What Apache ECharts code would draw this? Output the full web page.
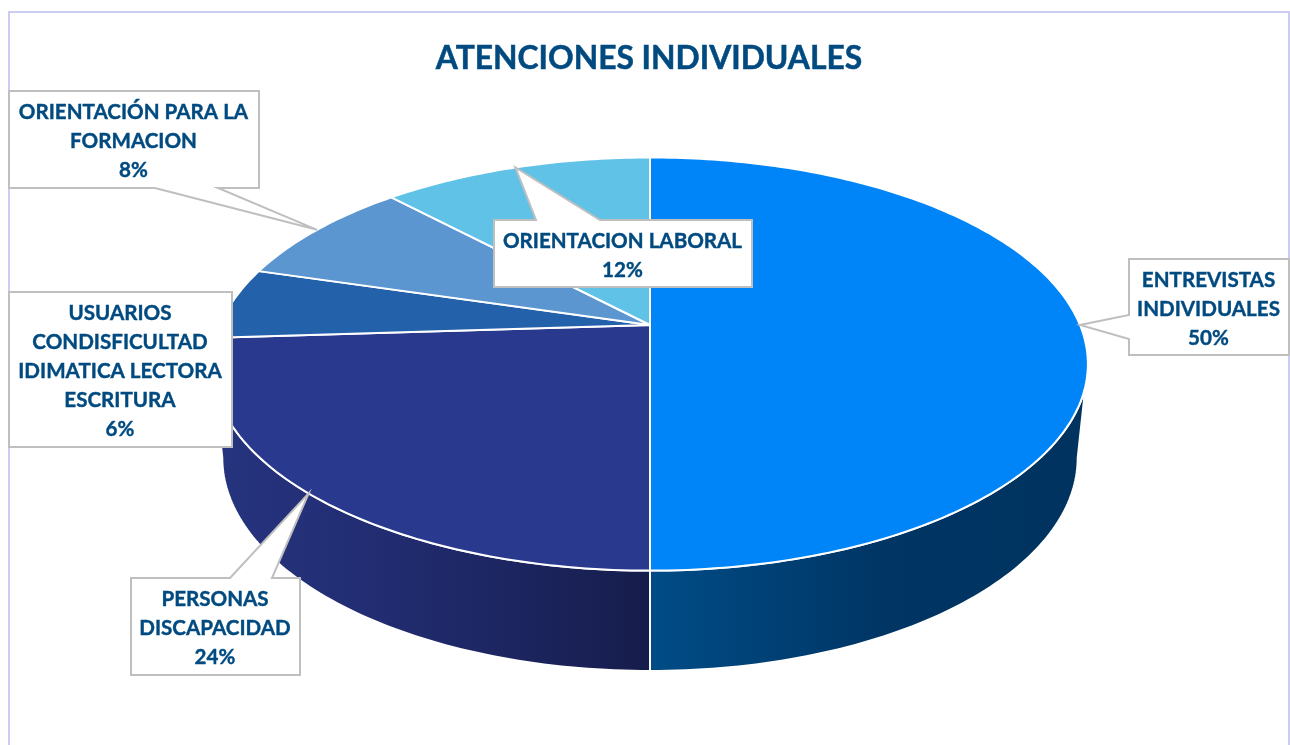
<!DOCTYPE html>
<html>
<head>
<meta charset="UTF-8"/>
<title>ATENCIONES INDIVIDUALES</title>
<script src="https://cdn.jsdelivr.net/npm/echarts@6/dist/echarts.min.js"></script>
<style>
    html, body { margin: 0; padding: 0; background: #fff; overflow: hidden; }
    #main { width: 1290px; height: 745px; }
</style>
</head>
<body>
<div id="main"></div>
<script>
// datos
var categories = ['ENTREVISTAS\nINDIVIDUALES', 'PERSONAS\nDISCAPACIDAD', 'USUARIOS\nCONDISFICULTAD\nIDIMATICA LECTORA\nESCRITURA', 'ORIENTACIÓN PARA LA\nFORMACION', 'ORIENTACION LABORAL'];
var values = [50, 24, 5.6, 8.4, 12];
var colors = ['#0085f8', '#293a8e', '#2361ab', '#5b96d0', '#5fc2e6'];
var titleText = 'ATENCIONES INDIVIDUALES';

// perspectiva del pie: top = cara superior, low = borde inferior
var tilt = -0.189;
var top3d = { cx: 650, cy: 325, a: 430, b: 199.2 };
var low3d = { cx: 650, cy: 417.5, a: 420, b: 205.6 };
var rimLimit = 100.9; // angulo donde el borde es mas ancho

// cajas de las etiquetas [x, y, w, h], lado y base de la flecha
var callouts = [
    { box: [1129, 259, 160, 96], side: 'left', base: [315, 339] },
    { box: [131, 578, 169, 97], side: 'top', base: [230, 272] },
    { box: [9, 292, 223, 155] },
    { box: [9, 91, 250, 97], side: 'bottom', base: [155, 218] },
    { box: [494, 220, 258, 67], side: 'top', base: [536, 600] }
];

var total = values.reduce(function (s, v) { return s + v; }, 0);

function startAngle(i) {
    var s = 0;
    for (var k = 0; k < i; k++) s += values[k];
    return s / total * 360;
}

function project(p, deg) {
    var t = deg * Math.PI / 180;
    var u = Math.sin(t), v = -Math.cos(t);
    var d = 1 + tilt * v;
    return [p.cx + p.a * u / d, p.cy + p.b * v / d];
}

function rim(p, from, to) {
    var pts = [];
    var n = Math.max(2, Math.ceil(Math.abs(to - from)));
    for (var i = 0; i <= n; i++) pts.push(project(p, from + (to - from) * i / n));
    return pts;
}

function renderWall(params, api) {
    var i = params.dataIndex;
    var from = Math.max(startAngle(i), rimLimit);
    var to = Math.min(startAngle(i) + api.value(0) / total * 360, 360 - rimLimit);
    if (to <= from) return null;
    var stops = i === 0
        ? [{ offset: 0, color: '#004c87' }, { offset: 0.55, color: '#003564' }, { offset: 1, color: '#00335f' }]
        : [{ offset: 0, color: '#161d4c' }, { offset: 0.6, color: '#212c70' }, { offset: 1, color: '#26337e' }];
    return {
        type: 'polygon',
        shape: { points: rim(low3d, from, to).concat(rim(top3d, to, from)) },
        style: {
            fill: { type: 'linear', global: true, x: 650, y: 0, x2: i === 0 ? 1080 : 220, y2: 0, colorStops: stops },
            stroke: '#fff',
            lineWidth: 2
        },
        silent: true
    };
}

function renderTop(params, api) {
    var i = params.dataIndex;
    var from = startAngle(i);
    var to = from + api.value(0) / total * 360;
    return {
        type: 'polygon',
        shape: { points: [[top3d.cx, top3d.cy]].concat(rim(top3d, from, to)) },
        style: { fill: colors[i], stroke: '#fff', lineWidth: 2, lineJoin: 'round' },
        silent: true
    };
}

function calloutPoints(c, tip) {
    var x = c.box[0], y = c.box[1], r = x + c.box[2], b = y + c.box[3];
    var pts = [[x, y]];
    if (c.side === 'top') pts.push([c.base[0], y], tip, [c.base[1], y]);
    pts.push([r, y], [r, b]);
    if (c.side === 'bottom') pts.push([c.base[1], b], tip, [c.base[0], b]);
    pts.push([x, b]);
    if (c.side === 'left') pts.push([x, c.base[1]], tip, [x, c.base[0]]);
    return pts;
}

function renderCallout(params, api) {
    var i = params.dataIndex;
    var c = callouts[i];
    var share = api.value(0) / total * 360;
    var tip = project(top3d, startAngle(i) + share / 2);
    return {
        type: 'group',
        silent: true,
        children: [{
            type: 'polygon',
            shape: { points: calloutPoints(c, tip) },
            style: { fill: '#fff', stroke: '#bfbfbf', lineWidth: 2 }
        }, {
            type: 'text',
            style: {
                x: c.box[0] + c.box[2] / 2 - 0.5,
                y: c.box[1] + c.box[3] / 2 + 2,
                text: categories[i] + '\n' + Math.round(api.value(0) / total * 100) + '%',
                align: 'center',
                verticalAlign: 'middle',
                fontFamily: 'Lato',
                fontWeight: 'bold',
                fontSize: 20.6,
                lineHeight: 29,
                fill: '#004a80',
                stroke: '#004a80',
                lineWidth: 0.4
            }
        }]
    };
}

var myChart = echarts.init(document.getElementById('main'));

var option = {
    animation: false,
    backgroundColor: '#fff',
    title: {
        text: titleText,
        left: 644,
        top: 38,
        textAlign: 'center',
        textStyle: {
            fontFamily: 'Lato', fontWeight: 'bold', fontSize: 31.8, color: '#004a80',
            textBorderColor: '#004a80', textBorderWidth: 0.5
        }
    },
    graphic: [{
        type: 'rect',
        silent: true,
        z: 0,
        shape: { x: 9, y: 12, width: 1280, height: 760 },
        style: { fill: 'transparent', stroke: '#ccccf2', lineWidth: 2 }
    }],
    series: [
        { type: 'custom', coordinateSystem: 'none', z: 2, data: values, renderItem: renderWall },
        { type: 'custom', coordinateSystem: 'none', z: 3, data: values, renderItem: renderTop },
        { type: 'custom', coordinateSystem: 'none', z: 4, data: values, renderItem: renderCallout }
    ]
};
myChart.setOption(option);
</script>
</body>
</html>
